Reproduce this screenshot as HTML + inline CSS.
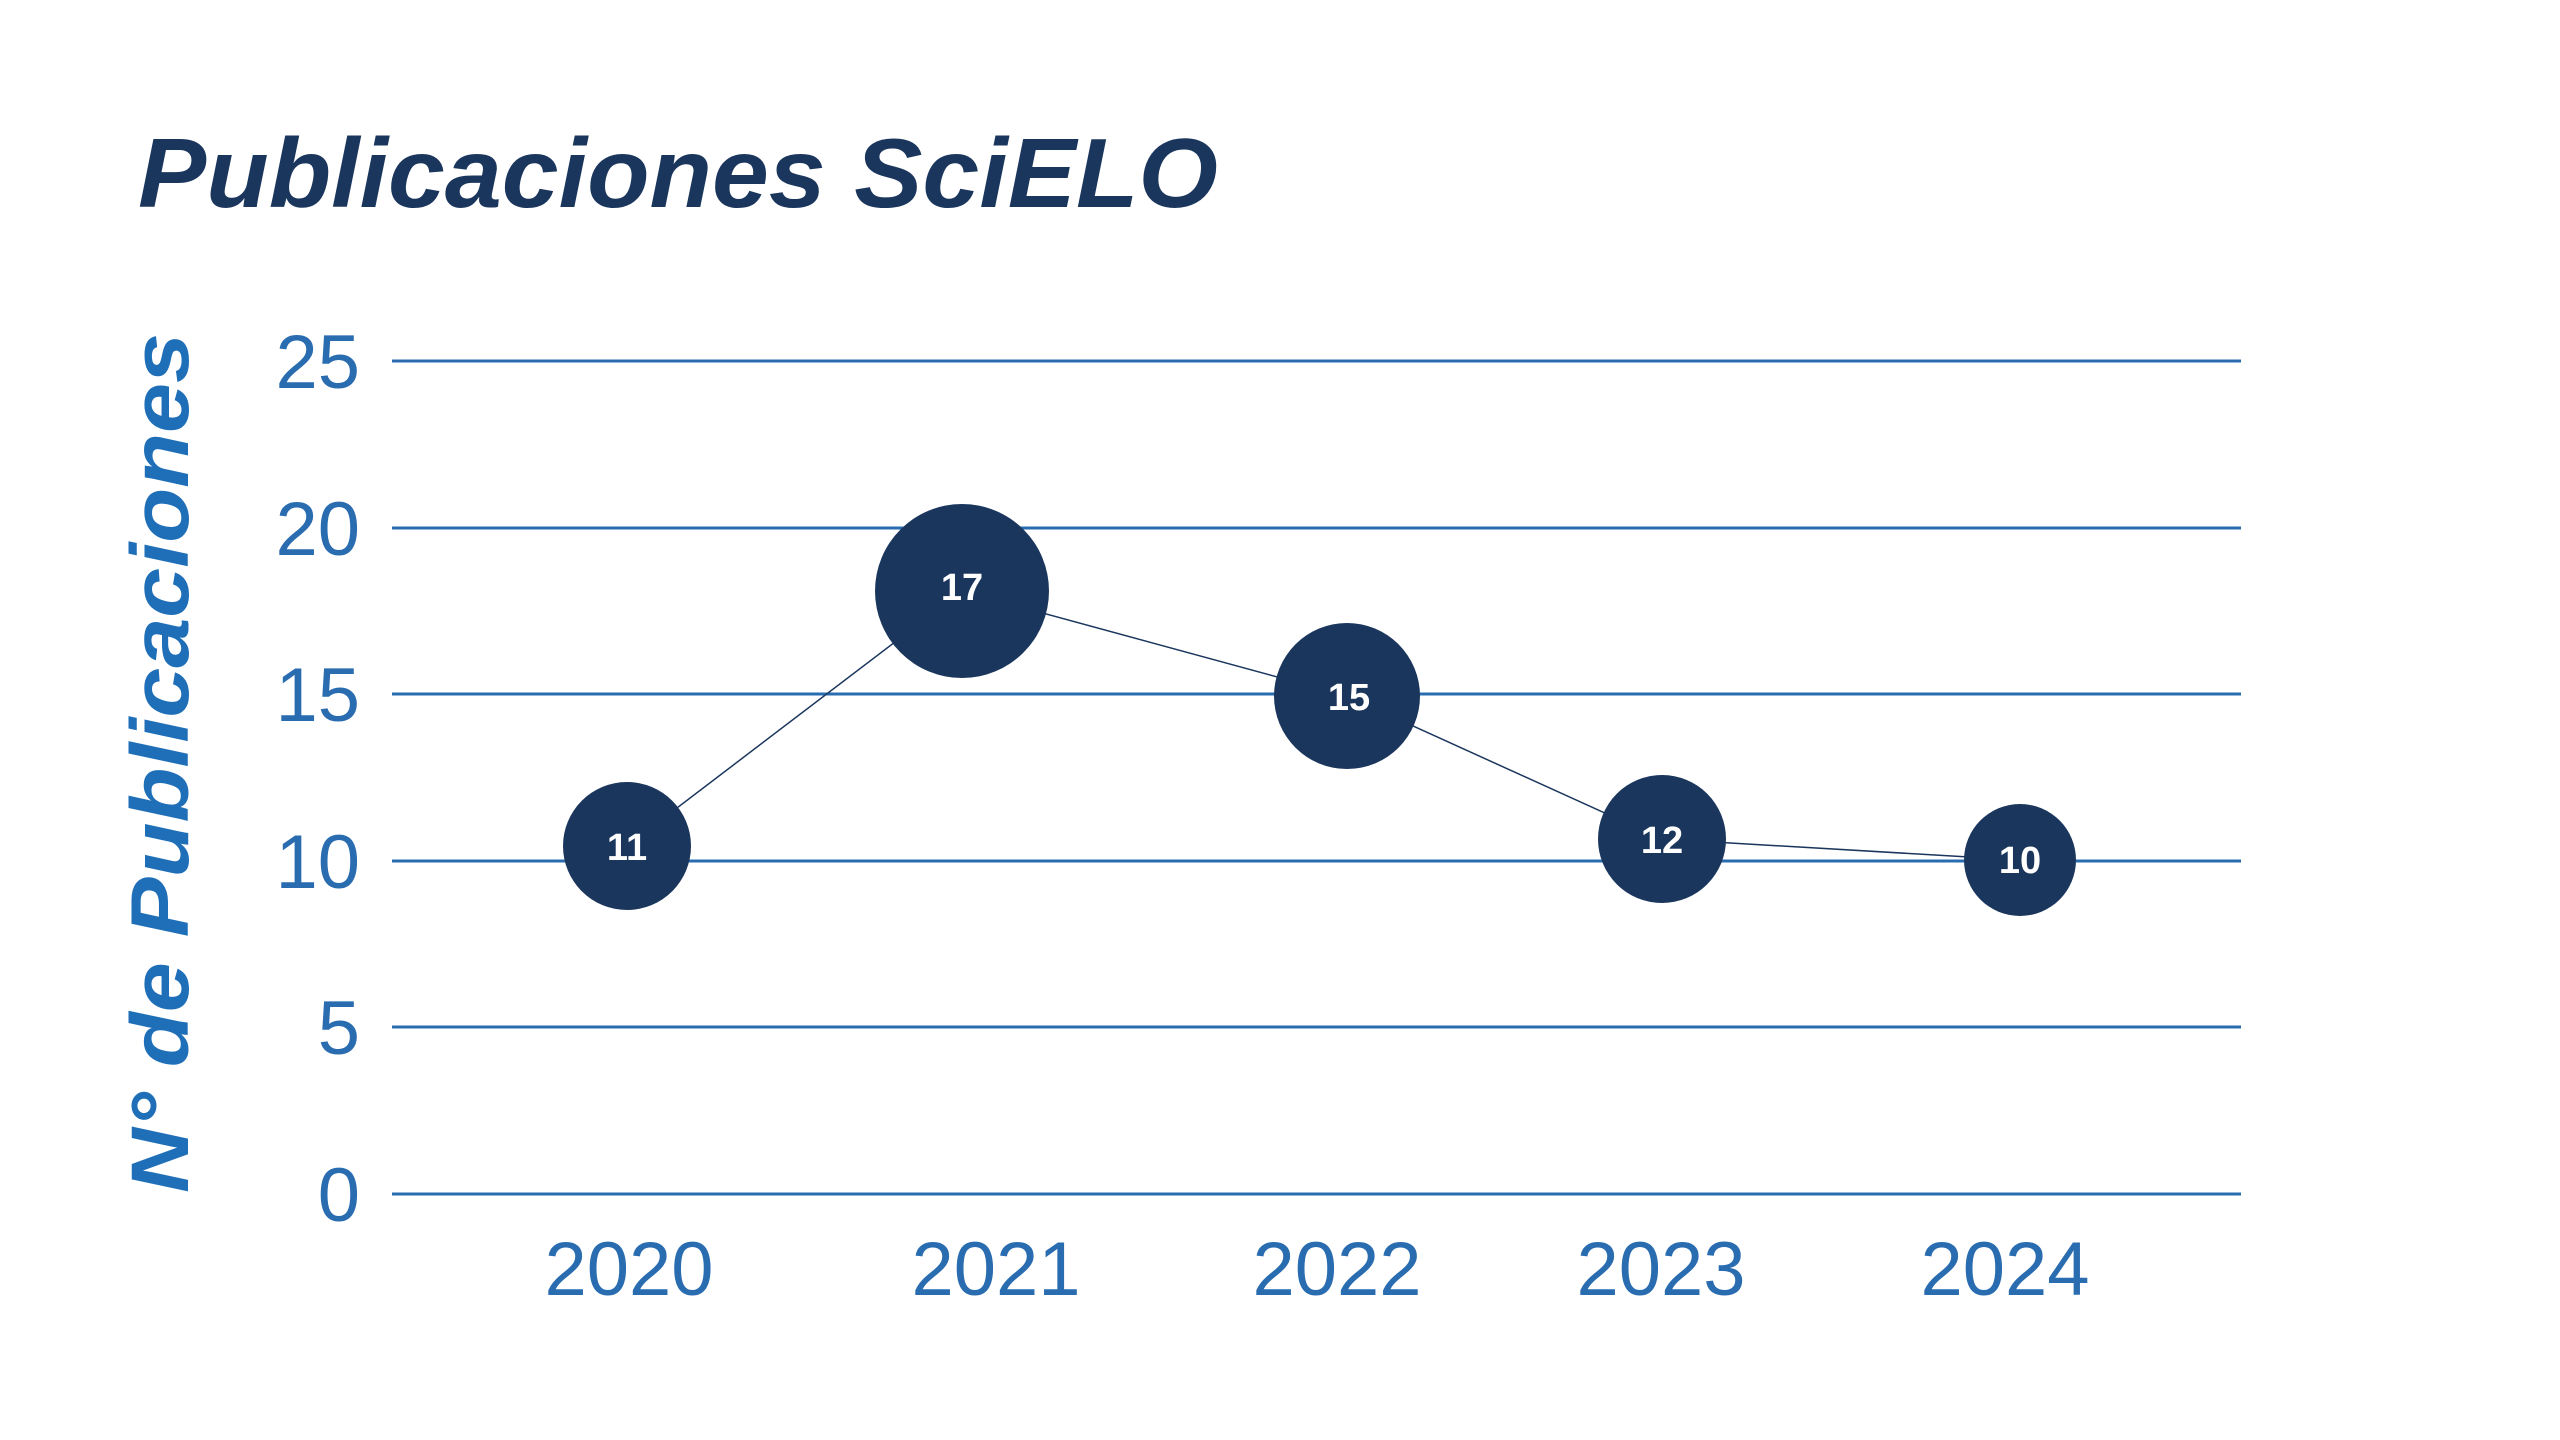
<!DOCTYPE html>
<html><head><meta charset="utf-8"><style>
html,body{margin:0;padding:0;background:#fff;}
svg{display:block;}
</style></head><body>
<svg width="2560" height="1440" viewBox="0 0 2560 1440" xmlns="http://www.w3.org/2000/svg">
<rect width="2560" height="1440" fill="#fff"/>
<text x="138" y="207" font-family="Liberation Sans, sans-serif" font-weight="bold" font-style="italic" font-size="98" fill="#1b365d" textLength="1080" lengthAdjust="spacingAndGlyphs">Publicaciones SciELO</text>
<text transform="translate(188,763) rotate(-90)" text-anchor="middle" font-family="Liberation Sans, sans-serif" font-weight="bold" font-style="italic" font-size="82" fill="#1f6fb8" textLength="860" lengthAdjust="spacingAndGlyphs">N° de Publicaciones</text>
<g stroke="#2a6cb0" stroke-width="3">
<line x1="392" y1="361" x2="2241" y2="361"/>
<line x1="392" y1="528" x2="2241" y2="528"/>
<line x1="392" y1="694" x2="2241" y2="694"/>
<line x1="392" y1="861" x2="2241" y2="861"/>
<line x1="392" y1="1027" x2="2241" y2="1027"/>
<line x1="392" y1="1194" x2="2241" y2="1194"/>
</g>
<g font-family="Liberation Sans, sans-serif" font-size="76" fill="#2a6cb0" text-anchor="end">
<text x="360" y="388">25</text>
<text x="360" y="555">20</text>
<text x="360" y="721">15</text>
<text x="360" y="888">10</text>
<text x="360" y="1054">5</text>
<text x="360" y="1221">0</text>
</g>
<g font-family="Liberation Sans, sans-serif" font-size="76" fill="#2a6cb0" text-anchor="middle">
<text x="629" y="1295">2020</text>
<text x="996" y="1295">2021</text>
<text x="1337" y="1295">2022</text>
<text x="1661" y="1295">2023</text>
<text x="2005" y="1295">2024</text>
</g>
<polyline points="627,846 962,591 1347,696 1662,839 2020,860" fill="none" stroke="#1b365d" stroke-width="1.5"/>
<g fill="#1b365d">
<circle cx="627" cy="846" r="64"/>
<circle cx="962" cy="591" r="87"/>
<circle cx="1347" cy="696" r="73"/>
<circle cx="1662" cy="839" r="64"/>
<circle cx="2020" cy="860" r="56"/>
</g>
<g font-family="Liberation Sans, sans-serif" font-weight="bold" font-size="38" fill="#fff" text-anchor="middle">
<text x="627" y="860">11</text>
<text x="962" y="600">17</text>
<text x="1349" y="710">15</text>
<text x="1662" y="853">12</text>
<text x="2020" y="873">10</text>
</g>
</svg>
</body></html>
